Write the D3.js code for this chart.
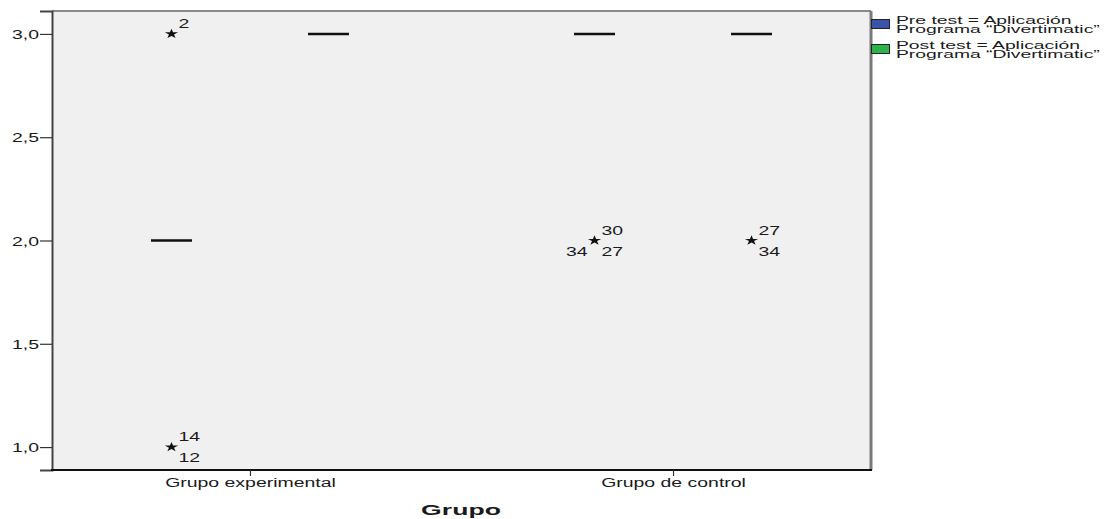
<!DOCTYPE html>
<html><head><meta charset="utf-8">
<script src="https://cdn.jsdelivr.net/npm/d3@7"></script>
<style>
body{margin:0;background:#fff;}
text{font-family:"Liberation Sans",Arial,sans-serif;fill:#1a1a1a;}
</style></head>
<body><svg id="c" width="1107" height="519"></svg>
<script>
// ---- data ----
const categories = ["Grupo experimental", "Grupo de control"];
const series = ["Pre test", "Post test"];
const seriesLabels = [
  ["Pre test = Aplicación", "Programa \u201CDivertimatic\u201D"],
  ["Post test = Aplicación", "Programa \u201CDivertimatic\u201D"]
];
const seriesColors = ["#3a55a8", "#2db34a"];
// medians per category, per series [Pre, Post]
const medianExperimental = [2, 3];
const medianControl = [3, 3];
// outliers: category, series, value, case labels (with placement)
const outlierCategory = ["Grupo experimental", "Grupo experimental", "Grupo de control", "Grupo de control"];
const outlierSeries   = ["Pre test", "Pre test", "Pre test", "Post test"];
const outlierValue    = [3, 1, 2, 2];
const outlierLabels   = [
  [["2","ur"]],
  [["14","ur"],["12","lr"]],
  [["30","ur"],["34","ll"],["27","lr"]],
  [["27","ur"],["34","lr"]]
];
const yTicks = [1.0, 1.5, 2.0, 2.5, 3.0];
const xTitle = "Grupo";

// ---- layout ----
const svg = d3.select("#c");
const L = 52, R = 871, T = 11, B = 470;
const SX = 1.62;

const x = d3.scalePoint().domain(categories).range([L, R]).padding(0.468);
const xs = d3.scalePoint().domain(series).range([-78.5, 78.5]);
const y = d3.scaleLinear().domain([0.889, 3.111]).range([B, T]);
const boxW = 41;

// plot background
svg.append("rect").attr("x", L).attr("y", T).attr("width", R - L).attr("height", B - T)
  .attr("fill", "#f0f0f0");
// borders: top/right gray, left/bottom dark
svg.append("line").attr("x1", L).attr("x2", R).attr("y1", T).attr("y2", T).attr("stroke", "#8a8a8a").attr("stroke-width", 2);
svg.append("line").attr("x1", R).attr("x2", R).attr("y1", T).attr("y2", B).attr("stroke", "#7a7a7a").attr("stroke-width", 3);

// medians
const medians = [medianExperimental, medianControl];
const medRows = [];
categories.forEach((c, i) => series.forEach((s, j) => medRows.push({c, s, v: medians[i][j]})));
svg.append("g").selectAll("line").data(medRows).join("line")
  .attr("x1", d => x(d.c) + xs(d.s) - boxW / 2)
  .attr("x2", d => x(d.c) + xs(d.s) + boxW / 2)
  .attr("y1", d => y(d.v)).attr("y2", d => y(d.v))
  .attr("stroke", "#111").attr("stroke-width", 2.5);

// outliers
const outliers = outlierValue.map((v, i) => ({c: outlierCategory[i], s: outlierSeries[i], v, labels: outlierLabels[i]}));
const og = svg.append("g").selectAll("g").data(outliers).join("g")
  .attr("transform", d => `translate(${x(d.c) + xs(d.s)},${y(d.v)})`);
og.append("path").attr("d", d3.symbol(d3.symbolStar).size(30)())
  .attr("transform", "scale(1.35,1)").attr("fill", "#111");
og.each(function(d) {
  const g = d3.select(this);
  d.labels.forEach(([t, pos]) => {
    let tx, ty, anchor;
    if (pos === "ur") { tx = 7; ty = -6; anchor = "start"; }
    else if (pos === "lr") { tx = 7; ty = 15; anchor = "start"; }
    else { tx = -7; ty = 15; anchor = "end"; }
    g.append("text").attr("transform", `translate(${tx},${ty}) scale(${SX},1)`)
      .attr("text-anchor", anchor).attr("font-size", 12).text(t);
  });
});

// y axis
const yAxis = svg.append("g").attr("transform", `translate(${L},0)`)
  .call(d3.axisLeft(y).tickValues(yTicks).tickSize(12).tickFormat(d => d3.format(".1f")(d).replace(".", ",")));
yAxis.select(".domain").attr("stroke", "#444").attr("stroke-width", 2);
yAxis.selectAll(".tick line").attr("stroke", "#333").attr("stroke-width", 1.2);
yAxis.selectAll(".tick text").attr("x", null).attr("dy", null)
  .attr("transform", `translate(-13,4.5) scale(${SX},1)`)
  .attr("font-size", 12).attr("font-family", "Liberation Sans, Arial, sans-serif").attr("fill", "#1a1a1a");

// x axis
const xAxis = svg.append("g").attr("transform", `translate(0,${B})`)
  .call(d3.axisBottom(x).tickSize(6).tickSizeOuter(0));
xAxis.select(".domain").attr("stroke", "#111").attr("stroke-width", 2).attr("d", `M${L - 1},0H${R + 1}`);
xAxis.selectAll(".tick line").attr("stroke", "#333").attr("stroke-width", 1.2);
xAxis.selectAll(".tick text").attr("y", null).attr("dy", null)
  .attr("transform", `translate(0,17) scale(${SX},1)`)
  .attr("font-size", 12).attr("font-family", "Liberation Sans, Arial, sans-serif").attr("fill", "#1a1a1a");

// x title
svg.append("text").attr("transform", `translate(461,515) scale(1.9,1)`)
  .attr("text-anchor", "middle").attr("font-size", 14).attr("font-weight", "bold").text(xTitle);

// legend
const lg = svg.append("g").selectAll("g").data(series).join("g")
  .attr("transform", (d, i) => `translate(871,${19 + i * 25})`);
lg.append("rect").attr("x", 0.5).attr("y", 0.5).attr("width", 18).attr("height", 9)
  .attr("fill", (d, i) => seriesColors[i]).attr("stroke", "#222").attr("stroke-width", 1);
lg.each(function(d, i) {
  const g = d3.select(this);
  seriesLabels[i].forEach((t, k) => {
    g.append("text").attr("transform", `translate(25,${4.5 + k * 9.5}) scale(1.84,1)`)
      .attr("font-size", 10.5).text(t);
  });
});
</script></body></html>
